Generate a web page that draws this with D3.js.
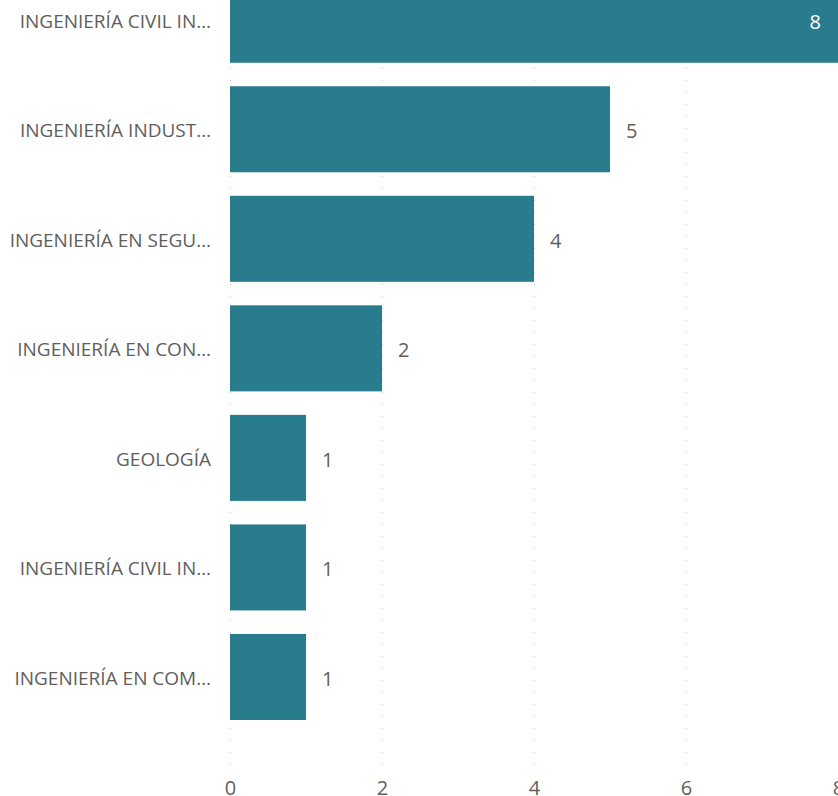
<!DOCTYPE html>
<html><head><meta charset="utf-8">
<script src="https://cdn.jsdelivr.net/npm/d3@7"></script>
<style>body{margin:0;background:#fff;overflow:hidden}svg{display:block}</style>
</head><body>
<script>
const categories = ["INGENIERÍA CIVIL IN…","INGENIERÍA INDUST…","INGENIERÍA EN SEGU…","INGENIERÍA EN CON…","GEOLOGÍA","INGENIERÍA CIVIL IN…","INGENIERÍA EN COM…"];
const values = [8,5,4,2,1,1,1];
const xTicks = [0,2,4,6,8];

const W = 838, H = 796;
const svg = d3.select("body").append("svg").attr("width", W).attr("height", H);
const font = "'Open Sans', 'Noto Sans', sans-serif";

const x = d3.scaleLinear().domain([0, 8]).range([230, 838]);
const y = d3.scaleBand().domain(d3.range(categories.length))
  .range([-45.2, 741.9]).paddingInner(0.2145).paddingOuter(0.2);

// grid
svg.append("g").selectAll("line").data(xTicks).join("line")
  .attr("x1", d => x(d) + 0.5).attr("x2", d => x(d) + 0.5)
  .attr("y1", 765).attr("y2", 0)
  .attr("stroke", "#c8c8c8").attr("stroke-width", 1)
  .attr("stroke-dasharray", "1,11");

// bars
svg.append("g").selectAll("rect").data(values).join("rect")
  .attr("x", x(0)).attr("y", (d, i) => y(i))
  .attr("width", d => x(d) - x(0)).attr("height", y.bandwidth())
  .attr("fill", "#297C8E");

// value labels
svg.append("g").selectAll("text").data(values).join("text")
  .attr("x", d => d === 8 ? x(d) - 17 : x(d) + 16)
  .attr("y", (d, i) => y(i) + y.bandwidth() / 2 + 9)
  .attr("text-anchor", d => d === 8 ? "end" : "start")
  .attr("fill", d => d === 8 ? "#ffffff" : "#605e5c")
  .style("font-family", font).style("font-size", "20px")
  .text(d => d);

// category labels
svg.append("g").selectAll("text").data(categories).join("text")
  .attr("x", 211)
  .attr("y", (d, i) => y(i) + y.bandwidth() / 2 + 8)
  .attr("text-anchor", "end")
  .attr("fill", "#605e5c")
  .style("font-family", font).style("font-size", "19px")
  .text(d => d);

// x axis
const ax = svg.append("g").attr("transform", "translate(0,0)")
  .call(d3.axisBottom(x).tickValues(xTicks).tickSize(0).tickPadding(0));
ax.select(".domain").remove();
ax.selectAll("text").attr("fill", "#605e5c").attr("dy", null).attr("y", 795)
  .style("font-family", font).style("font-size", "20px");
</script>
</body></html>
